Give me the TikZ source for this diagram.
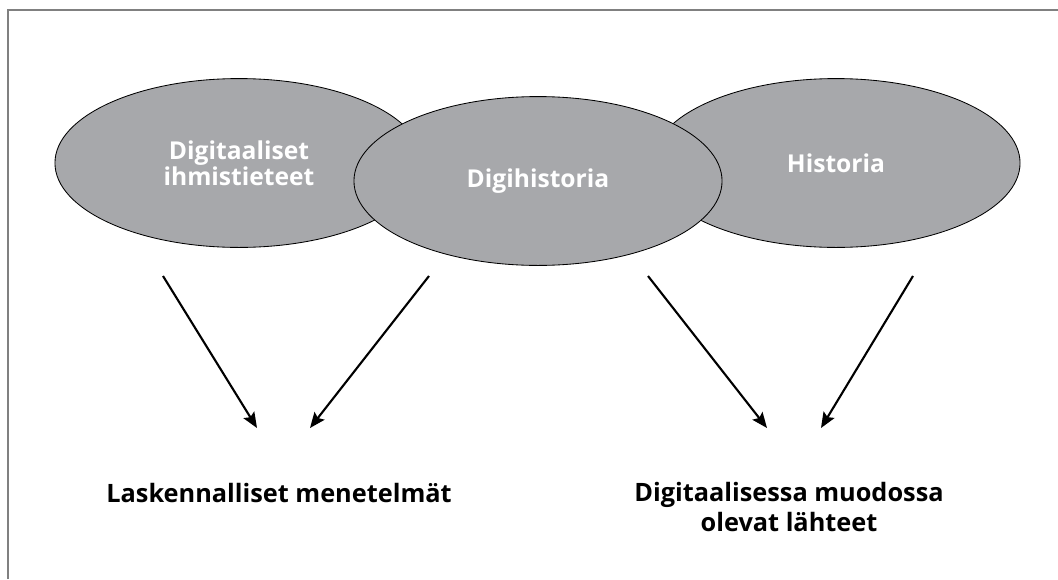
\documentclass[tikz,border=0pt]{standalone}
\usepackage{fontspec}
\setmainfont{Open Sans}
\usetikzlibrary{positioning,arrows.meta,shapes.geometric}
\definecolor{ovalgray}{HTML}{A7A8AB}
\definecolor{framegray}{HTML}{808080}

\begin{document}
\begin{tikzpicture}[
        x=0.025cm,
        y=-0.025cm,
        oval/.style={
            ellipse,
            draw=black,
            fill=ovalgray,
            line width=0.6pt,
            minimum width=9.2cm,
            minimum height=4.22cm,
            inner sep=0pt,
            align=center,
            text=white,
            font=\fontsize{17.5}{18.5}\selectfont\bfseries
        },
        arrow/.style={
            -{Stealth[length=11pt,width=9pt,inset=2pt]},
            line width=1.5pt
        },
        result/.style={
            align=center,
            font=\fontsize{18}{21.3}\selectfont\bfseries
        }
    ]

    \useasboundingbox (0,0) rectangle (1058,579);

    % Frame (top and left edges only)
    \draw[framegray, line width=1.3pt] (8,579) -- (8,10) -- (1058,10);

    % Fields, middle one on top
    \node[oval] (humanities) at (239,163) {Digitaaliset\\ihmistieteet};
    \node[oval] (history) at (836,163) {Historia};
    \node[oval] (digihistory) at (538,181) {Digihistoria};

    % What they lead to
    \node[result] (methods) at (279,493) {Laskennalliset menetelmät};
    \node[result] (sources) at (789,507) {Digitaalisessa muodossa\\olevat lähteet};

    % Arrow ends
    \coordinate (humanities_out) at (163,276);
    \coordinate (digihistory_out_a) at (429,276);
    \coordinate (digihistory_out_b) at (648,276);
    \coordinate (history_out) at (913,276);
    \coordinate (methods_in_a) at (257,428);
    \coordinate (methods_in_b) at (310,428);
    \coordinate (sources_in_a) at (767,428);
    \coordinate (sources_in_b) at (821,428);

    % Connections
    \draw[arrow] (humanities_out) -- (methods_in_a);
    \draw[arrow] (digihistory_out_a) -- (methods_in_b);
    \draw[arrow] (digihistory_out_b) -- (sources_in_a);
    \draw[arrow] (history_out) -- (sources_in_b);

\end{tikzpicture}
\end{document}
